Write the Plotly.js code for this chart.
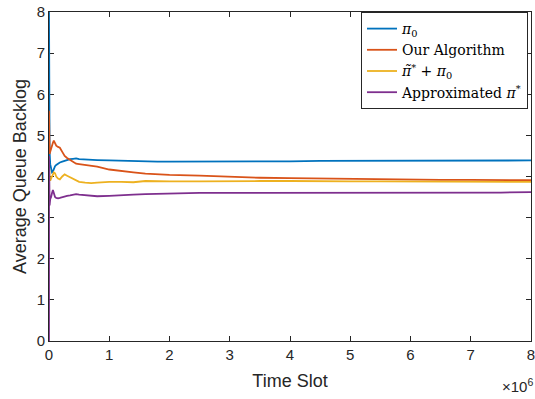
<!DOCTYPE html>
<html>
<head>
<meta charset="utf-8">
<script src="https://cdn.plot.ly/plotly-3.0.1.min.js"></script>
<style>html,body{margin:0;padding:0;background:#fff;}#chart{width:535px;height:399px;}</style>
</head>
<body>
<div id="chart"></div>
<script>
// Time slots (thousands of slots)
var timeK = [0, 1, 2, 5, 10, 20, 35, 50, 65, 80, 100, 120, 150, 180, 220, 260, 300, 350, 400, 450, 500, 600, 700, 800, 1000, 1200, 1400, 1600, 1800, 2000, 2500, 3000, 3500, 4000, 4500, 5000, 5500, 6000, 6500, 7000, 7500, 8000];

var pi0 = [8.0, 7.5, 6.5, 5.2, 4.6, 4.3, 4.15, 4.1, 4.12, 4.2, 4.25, 4.28, 4.32, 4.34, 4.36, 4.38, 4.4, 4.42, 4.43, 4.44, 4.42, 4.41, 4.41, 4.40, 4.39, 4.38, 4.37, 4.36, 4.36, 4.36, 4.36, 4.37, 4.37, 4.37, 4.38, 4.38, 4.38, 4.38, 4.38, 4.38, 4.38, 4.39];

var ourAlg = [5.6, 5.6, 5.3, 4.8, 4.55, 4.6, 4.7, 4.75, 4.82, 4.87, 4.8, 4.75, 4.72, 4.7, 4.6, 4.5, 4.45, 4.4, 4.35, 4.31, 4.3, 4.28, 4.27, 4.24, 4.17, 4.13, 4.1, 4.07, 4.05, 4.04, 4.02, 3.99, 3.97, 3.96, 3.95, 3.94, 3.93, 3.93, 3.92, 3.92, 3.92, 3.91];

var tildePlusPi0 = [3.7, 3.8, 3.9, 4.2, 4.0, 3.9, 3.95, 4.02, 4.05, 4.1, 4.08, 4.0, 3.95, 3.93, 4.0, 4.05, 4.02, 3.98, 3.95, 3.9, 3.87, 3.85, 3.84, 3.85, 3.87, 3.87, 3.86, 3.89, 3.88, 3.88, 3.88, 3.89, 3.89, 3.89, 3.88, 3.88, 3.88, 3.88, 3.88, 3.87, 3.87, 3.87];

var approxPi = [0.0, 4.5, 3.8, 3.4, 3.3, 3.45, 3.5, 3.6, 3.67, 3.6, 3.5, 3.48, 3.47, 3.48, 3.5, 3.52, 3.53, 3.54, 3.55, 3.57, 3.56, 3.55, 3.53, 3.52, 3.53, 3.55, 3.56, 3.57, 3.58, 3.59, 3.6, 3.6, 3.6, 3.6, 3.6, 3.6, 3.6, 3.61, 3.61, 3.61, 3.61, 3.62];

var seriesNames = ['<i>π</i><sub>0</sub>', 'Our Algorithm', '<i>π̃</i><sup>*</sup> + <i>π</i><sub>0</sub>', 'Approximated <i>π</i><sup>*</sup>'];
var seriesColors = ['#0072BD', '#D95319', '#EDB120', '#7E2F8E'];
var xTickVals = [0, 1, 2, 3, 4, 5, 6, 7, 8];
var xTickText = ['0', '1', '2', '3', '4', '5', '6', '7', '8'];
var yTickVals = [0, 1, 2, 3, 4, 5, 6, 7, 8];

var timeSlots = timeK.map(function (t) { return t * 1000; });
var allSeries = [pi0, ourAlg, tildePlusPi0, approxPi];

var traces = allSeries.map(function (ys, i) {
  return {
    x: timeSlots, y: ys, type: 'scatter', mode: 'lines',
    name: seriesNames[i],
    line: {color: seriesColors[i], width: 1.8}
  };
});

var axisColor = '#262626';
var layout = {
  width: 535, height: 399,
  margin: {l: 49, r: 4, t: 12, b: 58},
  paper_bgcolor: '#fff', plot_bgcolor: '#fff',
  font: {family: 'Liberation Sans, Arial, sans-serif', color: axisColor, size: 15},
  showlegend: true,
  xaxis: {
    range: [0, 8e6],
    tickvals: xTickVals.map(function (v) { return v * 1e6; }),
    ticktext: xTickText,
    ticks: 'inside', ticklen: 5, tickcolor: axisColor, tickwidth: 1,
    showline: true, linecolor: axisColor, linewidth: 1, mirror: 'ticks',
    showgrid: false, zeroline: false, ticklabeloverflow: 'allow', layer: 'below traces',
    tickfont: {size: 15, color: axisColor},
    title: {text: 'Time Slot', font: {size: 18, color: axisColor}, standoff: 12}
  },
  yaxis: {
    range: [0, 8],
    tickvals: yTickVals,
    ticks: 'inside', ticklen: 5, tickcolor: axisColor, tickwidth: 1,
    showline: true, linecolor: axisColor, linewidth: 1, mirror: 'ticks',
    showgrid: false, zeroline: false, layer: 'below traces',
    tickfont: {size: 15, color: axisColor},
    title: {text: 'Average Queue Backlog', font: {size: 18, color: axisColor}, standoff: 5}
  },
  legend: {
    x: 0.9938, xanchor: 'right', y: 1, yanchor: 'top',
    bgcolor: '#fff', bordercolor: axisColor, borderwidth: 1,
    font: {family: 'DejaVu Serif, Liberation Serif, serif', size: 14, color: '#000'},
    itemwidth: 30, tracegroupgap: 0
  },
  annotations: [{
    xref: 'paper', yref: 'paper', x: 1.008, y: -0.1, xanchor: 'right', yanchor: 'top',
    text: '×10<sup>6</sup>', showarrow: false,
    font: {size: 15, color: axisColor}
  }]
};

Plotly.newPlot('chart', traces, layout, {displayModeBar: false, staticPlot: true});
</script>
</body>
</html>
